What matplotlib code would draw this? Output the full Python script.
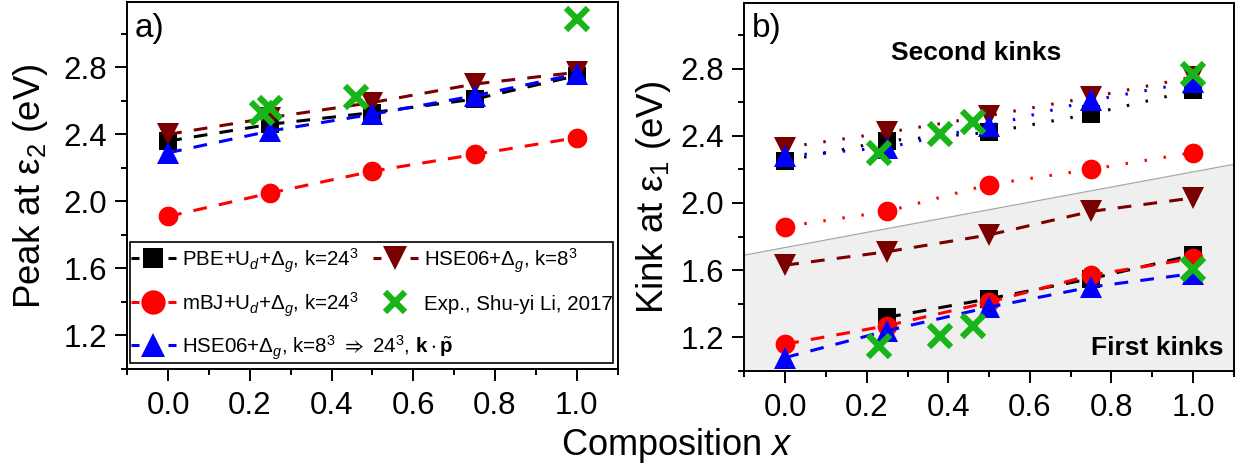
import numpy as np
import matplotlib
matplotlib.use("Agg")
import matplotlib.pyplot as plt
from matplotlib.lines import Line2D
from matplotlib.patches import Rectangle

plt.rcParams['font.family'] = ['Liberation Sans', 'DejaVu Sans']
plt.rcParams['mathtext.fontset'] = 'custom'
plt.rcParams['mathtext.rm'] = 'Liberation Sans'
plt.rcParams['mathtext.it'] = 'Liberation Sans:italic'
plt.rcParams['mathtext.bf'] = 'Liberation Sans:bold'
plt.rcParams['mathtext.fallback'] = 'stixsans'

# ---------------- data ----------------
x_calc = [0.0, 0.25, 0.5, 0.75, 1.0]

# panel a: peak at eps2
a_pbe = [2.36, 2.46, 2.53, 2.61, 2.75]
a_mbj = [1.91, 2.05, 2.18, 2.28, 2.38]
a_hse_kp = [2.29, 2.42, 2.52, 2.63, 2.76]
a_hse8 = [2.40, 2.50, 2.59, 2.70, 2.77]
a_exp_x = [0.23, 0.25, 0.46, 1.0]
a_exp_y = [2.53, 2.56, 2.62, 3.09]

# panel b: second kinks (dotted)
b2_pbe = [2.25, 2.37, 2.42, 2.53, 2.67]
b2_mbj = [1.86, 1.95, 2.11, 2.20, 2.30]
b2_hse_kp = [2.28, 2.33, 2.46, 2.61, 2.72]
b2_hse8 = [2.33, 2.42, 2.52, 2.63, 2.75]
b2_exp_x = [0.23, 0.38, 0.46, 1.0]
b2_exp_y = [2.30, 2.41, 2.48, 2.77]

# panel b: first kinks (dashed)
b1_pbe = [np.nan, 1.32, 1.43, 1.55, 1.69]
b1_mbj = [1.16, 1.27, 1.41, 1.57, 1.67]
b1_hse_kp = [1.08, 1.24, 1.38, 1.50, 1.58]
b1_hse8 = [1.63, 1.71, 1.81, 1.95, 2.03]
b1_exp_x = [0.23, 0.38, 0.46, 1.0]
b1_exp_y = [1.15, 1.21, 1.27, 1.61]

# shaded region boundary (first-kink region)
shade_x = [-0.1, 1.1]
shade_y = [1.69, 2.23]

labels = [r'PBE+U$_{d}$+$\Delta_{g}$, k=24$^{3}$',
          r'mBJ+U$_{d}$+$\Delta_{g}$, k=24$^{3}$',
          r'HSE06+$\Delta_{g}$, k=8$^{3}$ $\Rightarrow$ 24$^{3}$, $\mathbf{k}\cdot\tilde{\mathbf{p}}$',
          r'HSE06+$\Delta_{g}$, k=8$^{3}$',
          'Exp., Shu-yi Li, 2017']

xticks = [0.0, 0.2, 0.4, 0.6, 0.8, 1.0]
yticks = [1.2, 1.6, 2.0, 2.4, 2.8]

# ---------------- styles ----------------
C_PBE = 'black'
C_MBJ = '#ff0000'
C_HSE = '#0000ff'
C_HSE8 = '#7a0000'
C_EXP = '#17b517'

LW = 2.2
dash = (0, (4.5, 4))
dot = (0, (0.8, 5.5))
MS = dict(s=12.5, o=14.2, t=16.0, x=16.0)
MEW_X = 4.5

W, H = 1242, 473
fig = plt.figure(figsize=(W / 100, H / 100), dpi=100)
ax1 = fig.add_axes([0.1025, 0.2199, 0.3947, 0.776])
ax2 = fig.add_axes([0.5994, 0.2156, 0.394, 0.778])


def px(x, y):
    return x / W, 1 - y / H


def series(ax, x, y, color, marker, msz, ls):
    ax.plot(x, y, color=color, ls=ls, lw=LW, marker=marker, markersize=msz,
            markeredgewidth=0, zorder=3)


def exp(ax, x, y):
    ax.plot(x, y, ls='none', marker='x', color=C_EXP, markersize=MS['x'],
            markeredgewidth=MEW_X, zorder=4)


# panel a
series(ax1, x_calc, a_pbe, C_PBE, 's', MS['s'], dash)
series(ax1, x_calc, a_hse8, C_HSE8, 'v', MS['t'], dash)
series(ax1, x_calc, a_mbj, C_MBJ, 'o', MS['o'], dash)
series(ax1, x_calc, a_hse_kp, C_HSE, '^', MS['t'], dash)
exp(ax1, a_exp_x, a_exp_y)

# panel b
ax2.fill_between(shade_x, shade_y, [1.0, 1.0], color='#efefef', lw=0, zorder=0)
ax2.plot(shade_x, shade_y, color='#a8a8a8', lw=0.9, zorder=1)

series(ax2, x_calc, b2_pbe, C_PBE, 's', MS['s'], dot)
series(ax2, x_calc, b2_hse8, C_HSE8, 'v', MS['t'], dot)
series(ax2, x_calc, b2_mbj, C_MBJ, 'o', MS['o'], dot)
series(ax2, x_calc, b2_hse_kp, C_HSE, '^', MS['t'], dot)

series(ax2, x_calc, b1_pbe, C_PBE, 's', MS['s'], dash)
series(ax2, x_calc, b1_hse8, C_HSE8, 'v', MS['t'], dash)
series(ax2, x_calc, b1_mbj, C_MBJ, 'o', MS['o'], dash)
series(ax2, x_calc, b1_hse_kp, C_HSE, '^', MS['t'], dash)

exp(ax2, b2_exp_x, b2_exp_y)
exp(ax2, b1_exp_x, b1_exp_y)

for ax in (ax1, ax2):
    ax.set_xlim(-0.1, 1.1)
    ax.set_ylim(1.0, 3.19)
    ax.set_xticks(xticks)
    ax.set_xticklabels([f'{v:.1f}' for v in xticks])
    ax.set_xticks(np.arange(-0.1, 1.101, 0.1), minor=True)
    ax.set_yticks(yticks)
    ax.set_yticklabels([f'{v:.1f}' for v in yticks])
    ax.set_yticks(np.arange(1.0, 3.19, 0.2), minor=True)
    ax.tick_params(which='both', direction='out', width=1.4, top=False, right=False)
    ax.tick_params(which='major', length=8.7)
    ax.tick_params(which='minor', length=4)
    ax.tick_params(axis='x', which='major', labelsize=22.5, pad=7)
    ax.tick_params(axis='y', which='major', labelsize=22.5, pad=6)
    for sp in ax.spines.values():
        sp.set_linewidth(1.4)

# axis labels
fig.text(*px(40, 186), r'Peak at ε$_2$ (eV)', fontsize=26.4, rotation=90,
         rotation_mode='anchor', ha='center', va='baseline')
fig.text(*px(663, 197), r'Kink at ε$_1$ (eV)', fontsize=26.4, rotation=90,
         rotation_mode='anchor', ha='center', va='baseline')
fig.text(*px(677, 455), r'Composition $x$', fontsize=26, ha='center', va='baseline')

ax1.text(*px(135, 13), 'a)', transform=fig.transFigure, fontsize=24, ha='left', va='top')
ax2.text(*px(752, 13), 'b)', transform=fig.transFigure, fontsize=24, ha='left', va='top')
ax2.text(0.473, 0.864, 'Second kinks', transform=ax2.transAxes, fontsize=19,
         fontweight='bold', ha='center', va='center')
ax2.text(0.978, 0.0625, 'First kinks', transform=ax2.transAxes, fontsize=19,
         fontweight='bold', ha='right', va='center')

# ---------------- legend (panel a) ----------------
fig.add_artist(Rectangle(px(130, 363), (613 - 130) / W, (363 - 242) / H,
                         transform=fig.transFigure, facecolor='white',
                         edgecolor='black', lw=1.2, zorder=5))

entries = [  # (label index, color, marker, size, col x0, row y)
    (0, C_PBE, 's', 15.0, 131, 258),
    (1, C_MBJ, 'o', 17.5, 131, 302),
    (2, C_HSE, '^', 17.0, 131, 345),
    (3, C_HSE8, 'v', 17.0, 373, 258),
    (4, C_EXP, 'x', 17.0, 373, 302),
]
for idx, col, mk, msz, x0, yc in entries:
    xm = x0 + 22
    if mk != 'x':
        for a, b in [(x0, x0 + 8), (x0 + 37, x0 + 45)]:
            fig.add_artist(Line2D([a / W, b / W], [1 - yc / H, 1 - yc / H],
                                  transform=fig.transFigure, color=col, lw=LW,
                                  solid_capstyle='butt', zorder=6))
        fig.add_artist(Line2D([xm / W], [1 - yc / H], transform=fig.transFigure,
                              ls='none', marker=mk, markersize=msz, color=col,
                              markeredgewidth=0, zorder=6))
    else:
        fig.add_artist(Line2D([xm / W], [1 - yc / H], transform=fig.transFigure,
                              ls='none', marker=mk, markersize=msz - 3, color=col,
                              markeredgewidth=MEW_X, zorder=6))
    fig.text((x0 + 51) / W, 1 - (yc + 8.5) / H, labels[idx], fontsize=14.8,
             ha='left', va='baseline', zorder=7)

fig.savefig('out.png', dpi=100)
